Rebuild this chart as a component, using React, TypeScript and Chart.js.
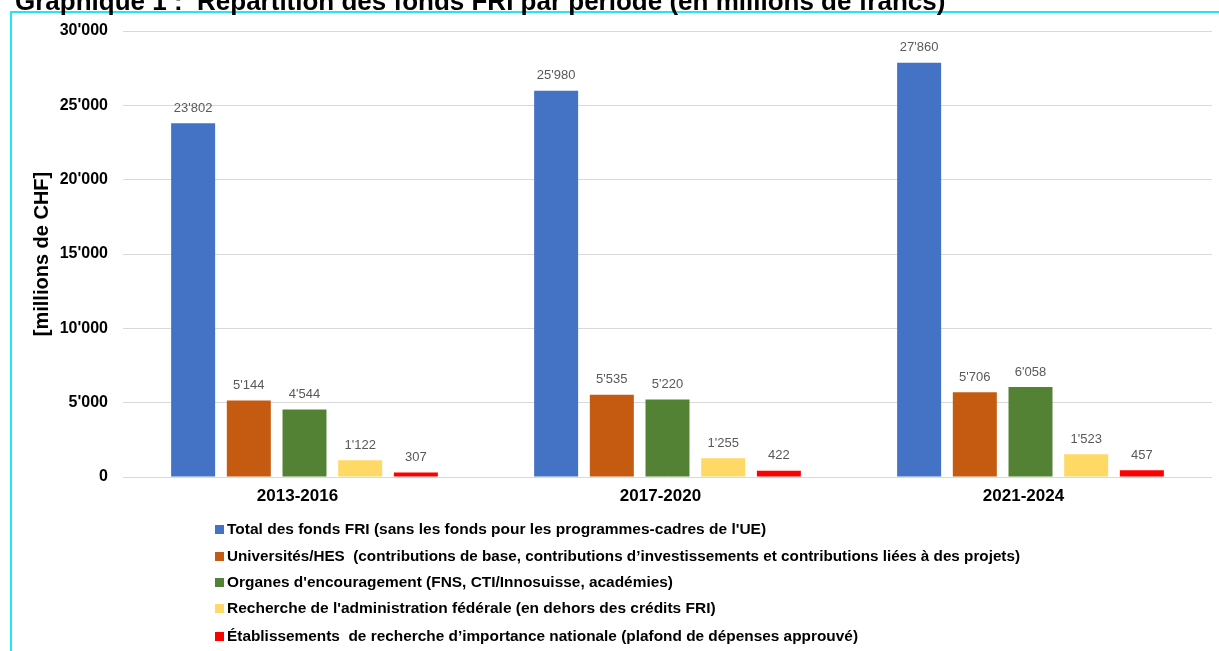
import { useEffect, useRef } from 'react';
import { Chart, registerables } from 'chart.js';

Chart.register(...registerables);

const titleText = 'Graphique 1 :  Répartition des fonds FRI par période (en millions de francs)';
const yAxisTitle = '[millions de CHF]';
const categories = ['2013-2016', '2017-2020', '2021-2024'];
const seriesLabels = [
  "Total des fonds FRI (sans les fonds pour les programmes-cadres de l'UE)",
  'Universités/HES  (contributions de base, contributions d’investissements et contributions liées à des projets)',
  "Organes d'encouragement (FNS, CTI/Innosuisse, académies)",
  "Recherche de l'administration fédérale (en dehors des crédits FRI)",
  'Établissements  de recherche d’importance nationale (plafond de dépenses approuvé)',
];
const totalFRI = [23802, 25980, 27860];
const universites = [5144, 5535, 5706];
const organes = [4544, 5220, 6058];
const rechercheAdmin = [1122, 1255, 1523];
const etablissements = [307, 422, 457];
const seriesColors = ['#4472C4', '#C55A11', '#548235', '#FFD966', '#FF0000'];
const yMin = 0;
const yMax = 30000;
const yStep = 5000;

const FONT = '"Liberation Sans", Arial, sans-serif';
const legendRowsY = [530, 557, 583, 609, 637];
const legendRowsMaxW = [543, 793, 446, 489, 631];

const fmt = (n: number) => String(n).replace(/\B(?=(\d{3})+(?!\d))/g, "'");

const decorPlugin = {
  id: 'decor',
  beforeDraw(chart: any) {
    const ctx = chart.ctx;
    ctx.save();
    ctx.fillStyle = '#ffffff';
    ctx.fillRect(0, 0, chart.width, chart.height);
    ctx.strokeStyle = '#22E6F0';
    ctx.lineWidth = 2;
    ctx.beginPath();
    ctx.moveTo(11, chart.height + 5);
    ctx.lineTo(11, 12);
    ctx.lineTo(chart.width + 5, 12);
    ctx.stroke();
    ctx.fillStyle = '#000';
    ctx.font = `bold 26px ${FONT}`;
    ctx.textBaseline = 'alphabetic';
    ctx.textAlign = 'left';
    ctx.fillText(titleText, 15, 10);
    ctx.restore();
  },
  afterDatasetsDraw(chart: any) {
    const ctx = chart.ctx;
    ctx.save();
    ctx.font = `13px ${FONT}`;
    ctx.fillStyle = '#595959';
    ctx.textAlign = 'center';
    ctx.textBaseline = 'middle';
    chart.data.datasets.forEach((ds: any, i: number) => {
      const meta = chart.getDatasetMeta(i);
      meta.data.forEach((bar: any, j: number) => {
        ctx.fillText(fmt(ds.data[j]), bar.x, bar.y - 15);
      });
    });
    ctx.restore();
  },
  afterDraw(chart: any) {
    const ctx = chart.ctx;
    ctx.save();
    ctx.font = `bold 15.5px ${FONT}`;
    ctx.textBaseline = 'middle';
    ctx.textAlign = 'left';
    chart.data.datasets.forEach((ds: any, i: number) => {
      const y = legendRowsY[i];
      ctx.fillStyle = ds.backgroundColor;
      ctx.fillRect(215, y - 5, 9, 9);
      ctx.fillStyle = '#000';
      ctx.fillText(ds.label, 227, y, legendRowsMaxW[i]);
    });
    ctx.restore();
  },
};

export default function App() {
  const ref = useRef<HTMLCanvasElement | null>(null);
  useEffect(() => {
    document.body.style.margin = '0';
    if (!ref.current) return;
    const seriesData = [totalFRI, universites, organes, rechercheAdmin, etablissements];
    const chart = new Chart(ref.current, {
      type: 'bar',
      data: {
        labels: categories,
        datasets: seriesData.map((d, i) => ({
          label: seriesLabels[i],
          data: d,
          backgroundColor: seriesColors[i],
          borderWidth: 0,
          categoryPercentage: 0.767,
          barPercentage: 0.79,
        })),
      },
      options: {
        responsive: false,
        animation: false,
        layout: { padding: { top: 31, right: 7, bottom: 144, left: 0 } },
        plugins: {
          legend: { display: false },
          tooltip: { enabled: false },
        },
        scales: {
          x: {
            grid: { display: false },
            border: { display: false },
            ticks: {
              color: '#000',
              font: { family: FONT, size: 17, weight: 'bold' },
              padding: 1,
              labelOffset: -7,
            },
            afterFit: (s: any) => { s.height = 30; },
          },
          y: {
            min: yMin,
            max: yMax,
            grid: { color: '#D9D9D9', drawTicks: false, lineWidth: 1 },
            border: { display: false },
            ticks: {
              stepSize: yStep,
              color: '#000',
              padding: 15,
              font: { family: FONT, size: 16, weight: 'bold' },
              callback: (v: any) => fmt(Number(v)),
            },
            title: {
              display: true,
              text: yAxisTitle,
              color: '#000',
              font: { family: FONT, size: 20, weight: 'bold' },
              padding: { top: 30, bottom: 0 },
            },
            afterFit: (s: any) => { s.width = 123; },
          },
        },
      },
      plugins: [decorPlugin],
    });
    return () => chart.destroy();
  }, []);
  return (
    <div style={{ position: 'absolute', left: 0, top: 0, width: 1219, height: 651 }}>
      <canvas ref={ref} width={1219} height={651} style={{ display: 'block' }} />
    </div>
  );
}
